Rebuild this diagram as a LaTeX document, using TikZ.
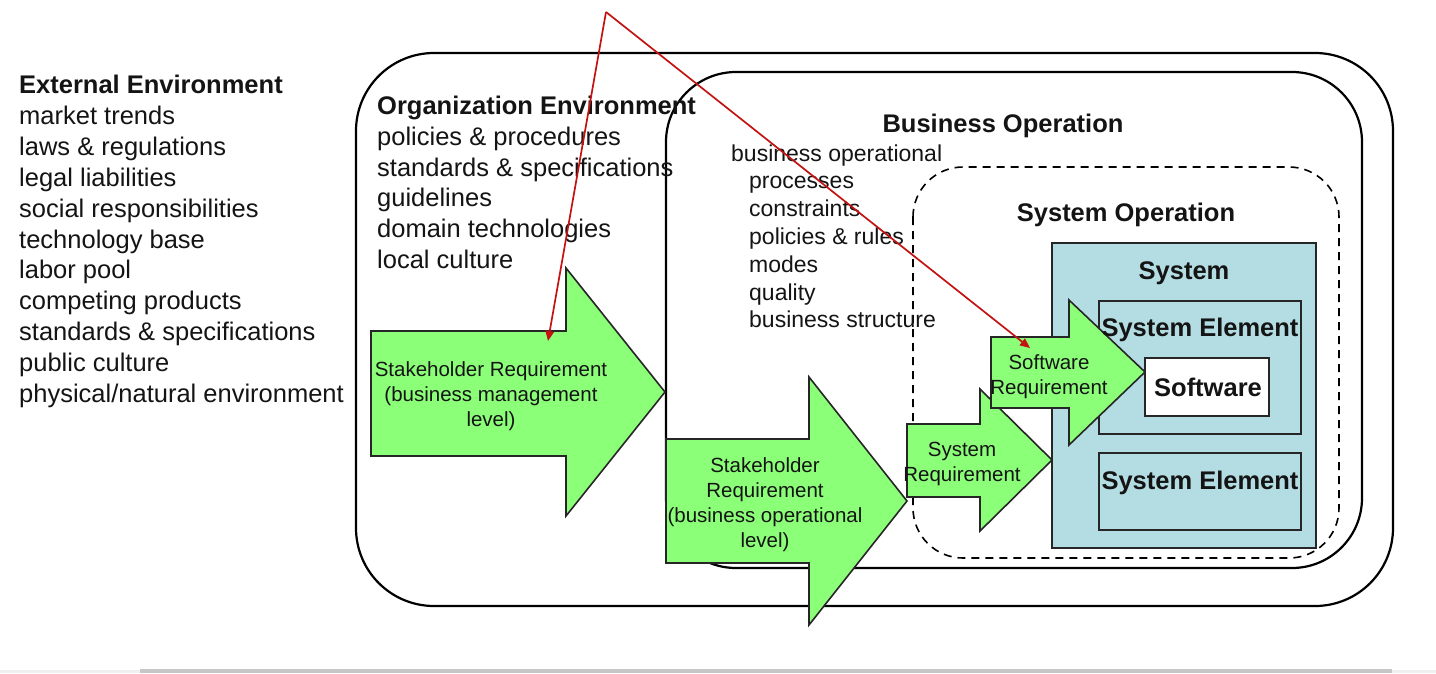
\documentclass[tikz,border=0pt]{standalone}
\usepackage{fontspec}
\setmainfont{Liberation Sans}
\usetikzlibrary{arrows.meta}
\definecolor{arrowgreen}{RGB}{140,255,120}
\definecolor{sysblue}{RGB}{180,221,227}
\definecolor{redline}{RGB}{196,18,18}
\definecolor{txt}{RGB}{20,20,20}
\begin{document}
\begin{tikzpicture}[x=1pt,y=-1pt,
  envbox/.style={draw=black,line width=2.2pt,fill=white},
  sysbox/.style={draw=black!85,line width=1.8pt},
  greenarrow/.style={draw=black!85,line width=1.6pt,fill=arrowgreen,line join=miter},
  boldtitle/.style={font=\fontsize{25.5}{30}\selectfont\bfseries,text=txt,inner sep=0pt,anchor=base},
  listitem/.style={font=\fontsize{25.5}{30}\selectfont,text=txt,inner sep=0pt,anchor=base west},
  bizitem/.style={font=\fontsize{23}{28}\selectfont,text=txt,inner sep=0pt,anchor=base west},
  greenlabel/.style={font=\fontsize{20.5}{25}\selectfont,text=txt,inner sep=0pt,align=center},
  redarrow/.style={draw=redline,line width=1.7pt,-{Triangle[length=10pt,width=8.5pt]}}]
\useasboundingbox (0,0) rectangle (1436,673);
% bottom grey strip
\fill[black!6] (0,670) rectangle (1436,673);
\fill[black!22] (140,669) rectangle (1392,673);
% environments
\draw[envbox,rounded corners=78pt] (356,53) rectangle (1393,606);
\draw[envbox,rounded corners=70pt] (666,72) rectangle (1362,568);
\draw[line width=1.6pt,dash pattern=on 8pt off 6pt,rounded corners=50pt] (913,167) rectangle (1339,558);
% system boxes
\draw[sysbox,fill=sysblue] (1052,243) rectangle (1316,548);
\draw[sysbox] (1099,301) rectangle (1301,434);
\draw[sysbox,fill=white] (1145,358) rectangle (1269,416);
\draw[sysbox] (1099,453) rectangle (1301,530);
% green block arrows
\draw[greenarrow] (371,331) -- (566,331) -- (566,268) -- (665,392) -- (566,516) -- (566,456) -- (371,456) -- cycle;
\draw[greenarrow] (666,439) -- (809,439) -- (809,377) -- (907,501) -- (809,625) -- (809,563) -- (666,563) -- cycle;
\draw[greenarrow] (907,424) -- (980,424) -- (980,389) -- (1052,460) -- (980,531) -- (980,497) -- (907,497) -- cycle;
\draw[greenarrow] (991,337) -- (1069,337) -- (1069,300) -- (1145,372) -- (1069,445) -- (1069,408) -- (991,408) -- cycle;
% external environment
\node[listitem,font=\fontsize{25.5}{30}\selectfont\bfseries] (exttitle) at (19,93) {External Environment};
\foreach [count=\i from 1] \t in {market trends,laws \& regulations,legal liabilities,social responsibilities,technology base,labor pool,competing products,standards \& specifications,public culture,physical/natural environment}
  \node[listitem] (ext\i) at (19,{93.5+30.9*\i}) {\t};
% organization environment
\node[listitem,font=\fontsize{25.5}{30}\selectfont\bfseries] (orgtitle) at (377,114) {Organization Environment};
\foreach [count=\i from 1] \t in {policies \& procedures,standards \& specifications,guidelines,domain technologies,local culture}
  \node[listitem] (org\i) at (377,{114.5+30.8*\i}) {\t};
% business operation
\node[boldtitle] (biztitle) at (1003,132) {Business Operation};
\node[bizitem] (biz0) at (731,161) {business operational};
\foreach [count=\i from 1] \t in {processes,constraints,policies \& rules,modes,quality,business structure}
  \node[bizitem] (biz\i) at (749,{161+27.8*\i}) {\t};
% system operation
\node[boldtitle] (sysoptitle) at (1126,221) {System Operation};
\node[boldtitle] (systitle) at (1184,279) {System};
\node[boldtitle] (se1) at (1200,336) {System Element};
\node[boldtitle] (sw) at (1208,396) {Software};
\node[boldtitle] (se2) at (1200,489) {System Element};
% green labels
\node[greenlabel] (sr1) at (491,396) {Stakeholder Requirement\\(business management\\level)};
\node[greenlabel] (sr2) at (765,505) {Stakeholder\\Requirement\\(business operational\\level)};
\node[greenlabel] (sysreq) at (962,464) {System\\Requirement};
\node[greenlabel] (swreq) at (1049,377) {Software\\Requirement};
% red arrows
\coordinate (redsrc) at (606,12);
\coordinate (redtgt1) at (548,341);
\coordinate (redtgt2) at (1030,348);
\draw[redarrow] (redsrc) -- (redtgt1);
\draw[redarrow] (redsrc) -- (redtgt2);
\end{tikzpicture}
\end{document}
